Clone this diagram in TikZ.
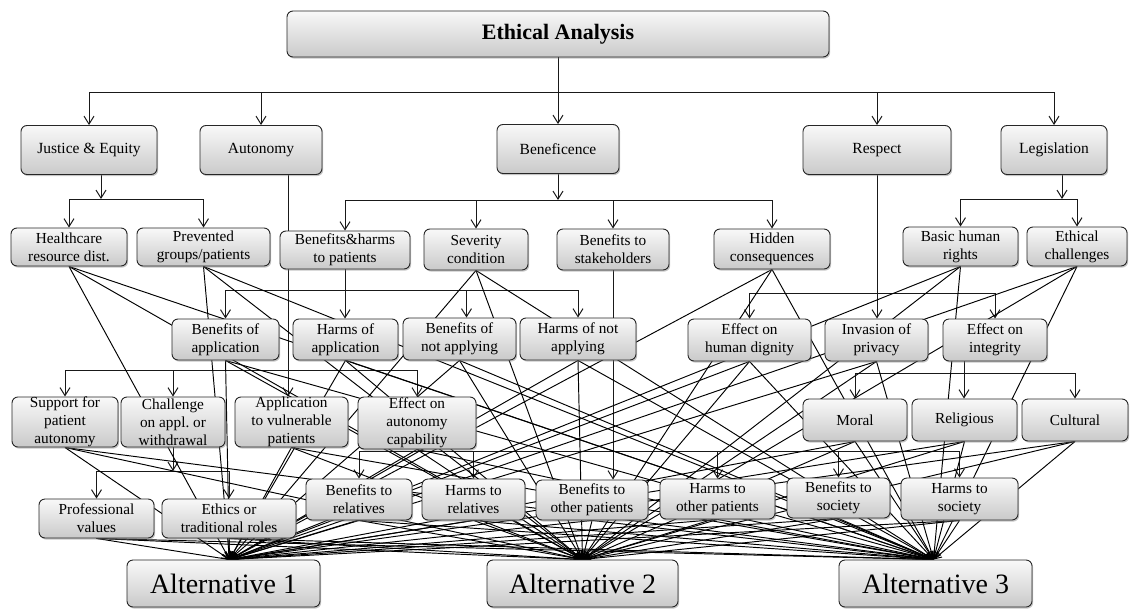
\documentclass[tikz,border=0pt]{standalone}
\usepackage{fontspec}
\setmainfont{Liberation Serif}
\usetikzlibrary{arrows.meta,shadows,calc}
\pgfdeclarelayer{bg}
\pgfsetlayers{bg,main}

\tikzset{
  box/.style={draw=black!85, line width=0.9pt, rounded corners=6pt,
    top color=gray!5, bottom color=gray!42,
    drop shadow={shadow xshift=1.2pt, shadow yshift=-1.6pt, opacity=0.45},
    inner sep=0pt, align=center, font=\fontsize{15.3}{18}\selectfont},
  principle/.style={box, font=\fontsize{15.5}{18}\selectfont},
  choice/.style={box, font=\fontsize{28}{30}\selectfont},
  tree/.style={draw=black!90, line width=1pt,
    -{Straight Barb[length=8pt,width=10pt,line width=1pt]}},
  vote/.style={draw=black, line width=0.95pt,
    -{Straight Barb[length=7pt,width=7pt,line width=1pt]}},
}
% \bx{name}{cx}{cy}{width}{height}{label}
\newcommand{\bx}[6]{\node[box, minimum width=#4pt, minimum height=#5pt] (#1) at (#2,#3) {#6};}

\begin{document}
\begin{tikzpicture}[x=1pt,y=-1pt]
\useasboundingbox (0,0) rectangle (1131,610);

% ---- root
\node[box, minimum width=542pt, minimum height=46pt, font=\fontsize{22}{24}\bfseries] (ea) at (558,34) {Ethical Analysis};

% ---- principles
\node[principle, minimum width=136pt, minimum height=49pt] (je) at (89,150) {Justice \& Equity};
\node[principle, minimum width=122pt, minimum height=49pt] (au) at (261,150) {Autonomy};
\node[principle, minimum width=122pt, minimum height=49pt] (be) at (558,149) {Beneficence};
\node[principle, minimum width=148pt, minimum height=49pt] (re) at (877,150) {Respect};
\node[principle, minimum width=106pt, minimum height=49pt] (le) at (1054,150) {Legislation};

% ---- second level
\bx{hc}{69}{247}{116}{38}{Healthcare\\resource dist.}
\bx{pg}{203.5}{247}{133}{38}{Prevented\\groups/patients}
\bx{bh}{345}{250}{130}{38}{Benefits\&harms\\to patients}
\bx{sc}{476}{249.5}{104}{41}{Severity\\condition}
\bx{bs}{613}{249.5}{112}{41}{Benefits to\\stakeholders}
\bx{hcq}{772}{249}{116}{40}{Hidden\\consequences}
\bx{bhr}{960.5}{246.5}{115}{39}{Basic human\\rights}
\bx{ec}{1077}{246.5}{100}{39}{Ethical\\challenges}

% ---- third level
\bx{boa}{225.5}{339.5}{107}{41}{Benefits of\\application}
\bx{hoa}{345.5}{339.5}{105}{41}{Harms of\\application}
\bx{bona}{459.5}{339}{113}{42}{Benefits of\\not applying}
\bx{hona}{578}{339}{116}{42}{Harms of not\\applying}
\bx{ehd}{749.5}{340}{123}{42}{Effect on\\human dignity}
\bx{iop}{876.5}{340}{103}{42}{Invasion of\\privacy}
\bx{eoi}{995}{340}{104}{42}{Effect on\\integrity}

% ---- fourth level
\bx{spa}{65}{422}{106}{50}{Support for\\patient\\autonomy}
\bx{cha}{173}{422}{104}{50}{Challenge\\on appl.\ or\\withdrawal}
\bx{avp}{291.5}{422}{113}{50}{Application\\to vulnerable\\patients}
\bx{eac}{417}{423}{118}{52}{Effect on\\autonomy\\capability}
\bx{mo}{855}{420}{104}{42}{Moral}
\bx{rel}{964.5}{420}{105}{42}{Religious}
\bx{cul}{1075}{420}{106}{42}{Cultural}

% ---- fifth level
\bx{pv}{96.5}{518.5}{115}{39}{Professional\\values}
\bx{etr}{229}{518.5}{134}{39}{Ethics or\\traditional roles}
\bx{btr}{359}{499.5}{106}{41}{Benefits to\\relatives}
\bx{htr}{473.5}{499.5}{103}{41}{Harms to\\relatives}
\bx{btop}{592}{500}{112}{40}{Benefits to\\other patients}
\bx{htop}{717.5}{499}{115}{40}{Harms to\\other patients}
\bx{bts}{838.5}{498}{103}{40}{Benefits to\\society}
\bx{hts}{959.5}{499}{117}{42}{Harms to\\society}

% ---- alternatives
\node[choice, minimum width=193pt, minimum height=47pt] (a1) at (223.5,583.5) {Alternative 1};
\node[choice, minimum width=191pt, minimum height=47pt] (a2) at (582.5,583.5) {Alternative 2};
\node[choice, minimum width=193pt, minimum height=47pt] (a3) at (935.5,583.5) {Alternative 3};

% ---- connectors, kept behind the boxes
\begin{pgfonlayer}{bg}
  % heights of the distribution bars
  \coordinate (yA) at (0,92);
  \coordinate (yB) at (0,199);
  \coordinate (yC) at (0,290);
  \coordinate (yD) at (0,293);
  \coordinate (yE) at (0,370);
  \coordinate (yF) at (0,373);
  \coordinate (yG) at (0,451);
  \coordinate (yH) at (0,471);

  % root to principles
  \draw[tree] (ea.south) -- (be.north);
  \foreach \c in {je,au,re,le}
    \draw[tree] (ea.south |- yA) -| (\c.north);

  % justice & equity
  \coordinate (jeo) at ($(je.south)+(12,0)$);
  \draw[tree] (jeo) -- (jeo |- yB);
  \foreach \c in {hc,pg}
    \draw[tree] (jeo |- yB) -| (\c.north);

  % beneficence
  \draw[tree] (be.south) -- ($(be.south |- yB)+(0,1)$);
  \foreach \c in {bh,sc,bs,hcq}
    \draw[tree] ($(be.south |- yB)+(0,1)$) -| (\c.north);

  % legislation
  \coordinate (leo) at ($(le.south)+(8,0)$);
  \draw[tree] (leo) -- (leo |- yB);
  \foreach \c in {bhr,ec}
    \draw[tree] (leo |- yB) -| (\c.north);

  % benefits & harms to patients
  \draw[tree] (bh.south) -- (bh.south |- hoa.north);
  \draw[tree] (bh.south |- yC) -| (boa.north);
  \draw[tree] (bh.south |- yC) -| ($(bona.north)+(7,0)$);
  \draw[tree] (bh.south |- yC) -| (hona.north);

  % respect
  \draw[tree] (re.south) -- (re.south |- iop.north);
  \foreach \c in {ehd,eoi}
    \draw[tree] (re.south |- yD) -| (\c.north);

  % autonomy
  \coordinate (auo) at ($(au.south)+(27,0)$);
  \draw[tree] (auo) -- (auo |- avp.north);
  \foreach \c in {spa,cha,eac}
    \draw[tree] (auo |- yE) -| (\c.north);

  % effect on integrity
  \coordinate (eio) at ($(eoi.south)+(-31,0)$);
  \draw[tree] (eio) -- (eio |- rel.north);
  \foreach \c in {mo,cul}
    \draw[tree] (eio |- yF) -| (\c.north);

  % benefits to stakeholders
  \draw[tree] (bs.south) -- (bs.south |- btop.north);
  \foreach \c in {btr,htr,htop,bts,hts}
    \draw[tree] (bs.south |- yG) -| (\c.north);

  % challenge on application or withdrawal
  \draw[tree] (cha.south) -- (cha.south |- yH);
  \foreach \c in {pv,etr}
    \draw[tree] (cha.south |- yH) -| (\c.north);

  % every criterion leads to each alternative
  \foreach \n in {hc,pg,sc,hcq,bhr,ec,boa,hoa,bona,hona,ehd,iop,spa,avp,eac,mo,rel,cul,pv,etr,btr,htr,btop,htop,bts,hts}{
    \draw[vote] (\n.south) -- ($(a1.north)+(6,0)$);
    \draw[vote] (\n.south) -- (a2.north);
    \draw[vote] (\n.south) -- ($(a3.north)+(-2,0)$);
  }
\end{pgfonlayer}
\end{tikzpicture}
\end{document}
